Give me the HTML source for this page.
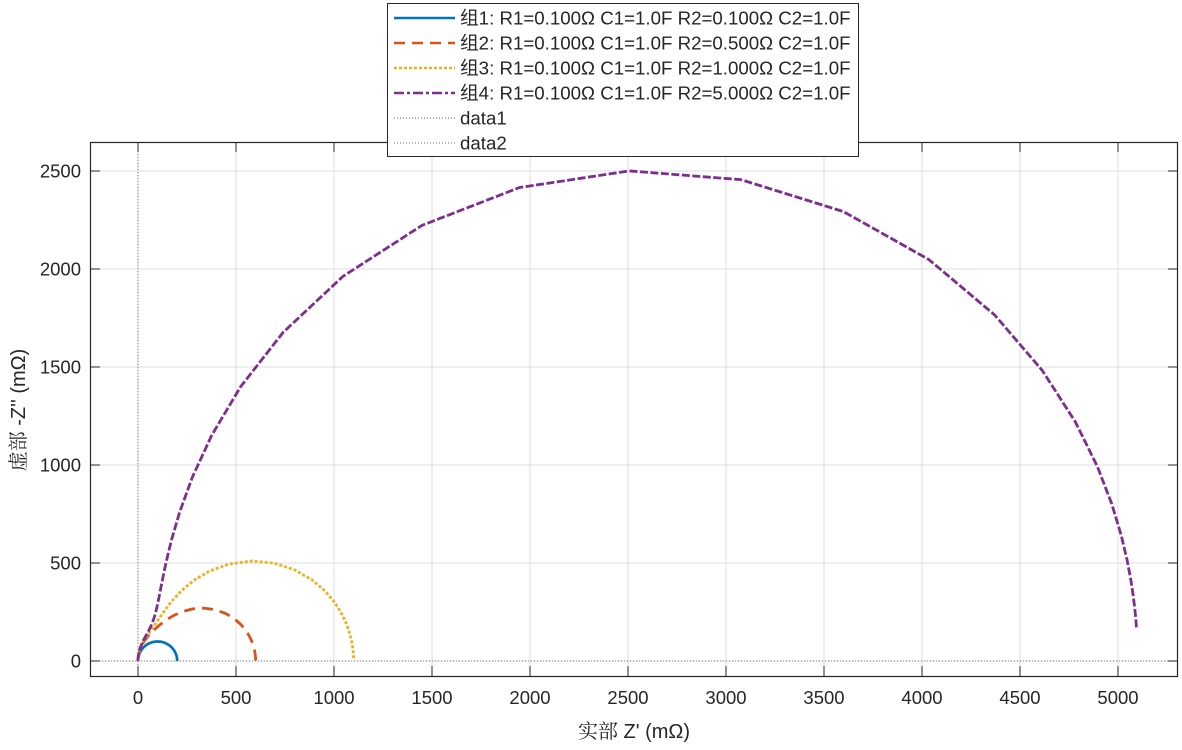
<!DOCTYPE html>
<html><head><meta charset="utf-8"><style>
body{margin:0;background:#fff;}
svg text{font-family:"Liberation Sans","Noto Sans CJK SC",sans-serif;fill:#262626;}
</style></head><body>
<svg id="s" width="1182" height="745" xmlns="http://www.w3.org/2000/svg">
<rect width="1182" height="745" fill="#fff"/>
<g id="grid"></g>
<g id="curves"></g>
<rect x="90.5" y="142.5" width="1087" height="534" fill="none" stroke="#262626" stroke-width="1.2"/>
<g id="ticks"></g>
<text x="634" y="738" font-size="20" text-anchor="middle"><tspan font-family="'Noto Serif CJK SC',serif">实部</tspan> Z' (mΩ)</text>
<text transform="translate(25,410) rotate(-90)" font-size="20" text-anchor="middle"><tspan font-family="'Noto Serif CJK SC',serif">虚部</tspan> -Z'' (mΩ)</text>
<g id="legend">
<rect x="387.5" y="3.5" width="471" height="153" fill="#fff" stroke="#262626"/>
<line x1="394" y1="18" x2="455" y2="18" stroke="#0072BD" stroke-width="2.5"/>
<line x1="394" y1="43" x2="455" y2="43" stroke="#D95319" stroke-width="2.5" stroke-dasharray="11,7"/>
<line x1="394" y1="68" x2="455" y2="68" stroke="#EDB120" stroke-width="2.5" stroke-dasharray="3,2"/>
<line x1="394" y1="93" x2="455" y2="93" stroke="#7E2F8E" stroke-width="2.5" stroke-dasharray="10,3,3,3"/>
<line x1="394" y1="118" x2="455" y2="118" stroke="#666" stroke-width="1" stroke-dasharray="1,2"/>
<line x1="394" y1="143" x2="455" y2="143" stroke="#666" stroke-width="1" stroke-dasharray="1,2"/>
<text x="460" y="24.5" font-size="18.7">组1: R1=0.100Ω C1=1.0F R2=0.100Ω C2=1.0F</text>
<text x="460" y="49.5" font-size="18.7">组2: R1=0.100Ω C1=1.0F R2=0.500Ω C2=1.0F</text>
<text x="460" y="74.5" font-size="18.7">组3: R1=0.100Ω C1=1.0F R2=1.000Ω C2=1.0F</text>
<text x="460" y="99.5" font-size="18.7">组4: R1=0.100Ω C1=1.0F R2=5.000Ω C2=1.0F</text>
<text x="460" y="124.5" font-size="18.7">data1</text>
<text x="460" y="149.5" font-size="18.7">data2</text>
</g>
</svg>
<script>
var NS="http://www.w3.org/2000/svg";
function X(v){return 138+v*0.196;}function Y(v){return 661-v*0.196;}
function el(p,t,a){var e=document.createElementNS(NS,t);for(var k in a)e.setAttribute(k,a[k]);document.getElementById(p).appendChild(e);return e;}
for(var v=0;v<=5000;v+=500){var x=X(v);
 el("grid","line",{x1:x,y1:142,x2:x,y2:676,stroke:"#dcdcdc","stroke-width":1});
 el("ticks","line",{x1:x,y1:676,x2:x,y2:666,stroke:"#262626"});
 el("ticks","line",{x1:x,y1:142,x2:x,y2:152,stroke:"#262626"});
 var t=el("ticks","text",{x:x,y:704,"font-size":18.5,"text-anchor":"middle"});t.textContent=v;}
for(var v=0;v<=2500;v+=500){var y=Y(v);
 el("grid","line",{x1:90,y1:y,x2:1178,y2:y,stroke:"#dcdcdc","stroke-width":1});
 el("ticks","line",{x1:90,y1:y,x2:100,y2:y,stroke:"#262626"});
 el("ticks","line",{x1:1178,y1:y,x2:1168,y2:y,stroke:"#262626"});
 var t=el("ticks","text",{x:81,y:y+6.5,"font-size":18.5,"text-anchor":"end"});t.textContent=v;}
el("curves","line",{x1:90,y1:Y(0),x2:1178,y2:Y(0),stroke:"#777","stroke-width":1,"stroke-dasharray":"1,2"});
el("curves","line",{x1:X(0),y1:142,x2:X(0),y2:676,stroke:"#777","stroke-width":1,"stroke-dasharray":"1,2"});
var sets=[[0.1,"#0072BD",""],[0.5,"#D95319","11,7"],[1.0,"#EDB120","3,2"],[5.0,"#7E2F8E","8,2.5"]];
sets.forEach(function(s){var R1=0.1,R2=s[0],pts=[];
 for(var k=40;k>=-30;k--){var w=2*Math.PI*Math.pow(10,k/10)*1.045;
  var a=w*R1,b=w*R2;
  var re=R1/(1+a*a)+R2/(1+b*b), im=R1*a/(1+a*a)+R2*b/(1+b*b);
  pts.push(X(re*1000).toFixed(2)+","+Y(im*1000).toFixed(2));}
 var a={points:pts.join(" "),fill:"none",stroke:s[1],"stroke-width":s[2]?2.8:2.7,"stroke-linejoin":"round"};
 if(s[2])a["stroke-dasharray"]=s[2];
 el("curves","polyline",a);});
</script>
</body></html>
